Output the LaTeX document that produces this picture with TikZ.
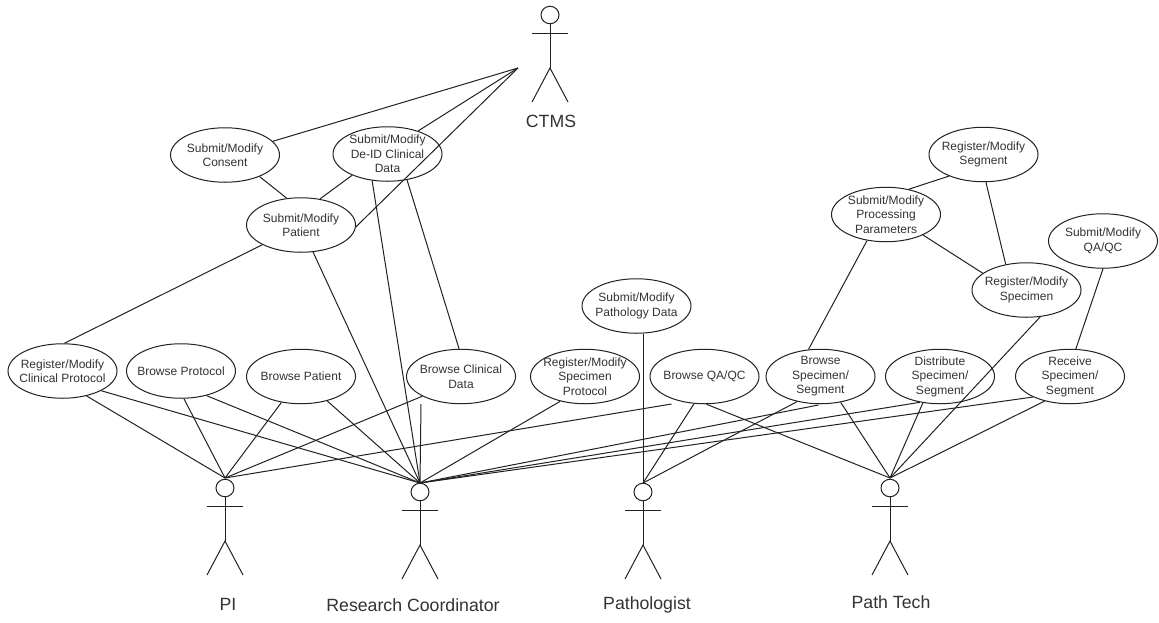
\documentclass[tikz,border=0pt]{standalone}
\usepackage{fontspec}
\setmainfont{Liberation Sans}
\usetikzlibrary{shapes.geometric}
\definecolor{ink}{HTML}{222222}
\definecolor{txt}{HTML}{333333}
\tikzset{
  usecase/.style={ellipse,draw=ink,line width=1pt,minimum width=109pt,minimum height=54.5pt,inner sep=0pt,
    label={[uctext]center:{#1}}},
  uctext/.style={align=center,text=txt,inner sep=0pt,font=\fontsize{12}{14.5}\selectfont},
  actorhead/.style={ellipse,draw=ink,line width=1pt,minimum width=18pt,minimum height=17.5pt,inner sep=0pt},
  actorlabel/.style={text=txt,font=\fontsize{17.7}{20}\selectfont,inner sep=0pt},
  link/.style={draw=ink,line width=1pt},
  limb/.style={draw=ink,line width=1pt}
}
\newcommand{\stick}[3]{% name, x, head-centre y
  \node[actorhead] (#1head) at (#2,#3) {};
  \draw[limb] (#1head.south) -- (#2,#3+53);
  \draw[limb] (#2-18,#3+18) -- (#2+18,#3+18);
  \draw[limb] (#2-18,#3+87) -- (#2,#3+53) -- (#2+18,#3+87);
}
\begin{document}
\begin{tikzpicture}[x=1pt,y=-1pt]
\useasboundingbox (0,0) rectangle (1159,622);
\fill[white] (0,0) rectangle (1159,622);
% actors
\stick{ctms}{550}{15}
\stick{pi}{225}{488}
\stick{rc}{420}{492}
\stick{pa}{643}{492}
\stick{pt}{890}{488}
\node[actorlabel] (lctms) at (551,121) {CTMS};
\node[actorlabel] (lpi) at (228,604) {PI};
\node[actorlabel] (lrc) at (413,605) {Research Coordinator};
\node[actorlabel] (lpa) at (647,605) {Pathologist};
\node[actorlabel] (lpt) at (891,602) {Path Tech};
% hub points
\coordinate (hctms) at (518,68);
\coordinate (hpi) at (225,478);
\coordinate (hrc) at (420,483);
\coordinate (hpa) at (643,483);
\coordinate (hpt) at (890,478);
\coordinate (freeqa) at (671.5,404);
\coordinate (freebc) at (421,404);
\coordinate (freebs) at (818.5,405);
% use cases
\node[usecase={Submit/Modify\\Consent}] (consent) at (225,155) {};
\node[usecase={Submit/Modify\\De-ID Clinical\\Data}] (deid) at (387.5,154) {};
\node[usecase={Submit/Modify\\Patient}] (patient) at (301,225) {};
\node[usecase={Register/Modify\\Segment}] (segment) at (983.5,154.5) {};
\node[usecase={Submit/Modify\\Processing\\Parameters}] (proc) at (886,214.5) {};
\node[usecase={Submit/Modify\\QA/QC}] (subqa) at (1103,241) {};
\node[usecase={Register/Modify\\Specimen}] (regspec) at (1026.5,290) {};
\node[usecase={Submit/Modify\\Pathology Data}] (pathdata) at (636.5,306) {};
\node[usecase={Register/Modify\\Clinical Protocol}] (regclin) at (62.5,371) {};
\node[usecase={Browse Protocol}] (bprot) at (181,371) {};
\node[usecase={Browse Patient}] (bpat) at (301,376.5) {};
\node[usecase={Browse Clinical\\Data}] (bclin) at (461,376.5) {};
\node[usecase={Register/Modify\\Specimen\\Protocol}] (regsp) at (585,376.5) {};
\node[usecase={Browse QA/QC}] (bqa) at (704.5,376.5) {};
\node[usecase={Browse\\Specimen/\\Segment}] (bspec) at (820.5,376.5) {};
\node[usecase={Distribute\\Specimen/\\Segment}] (dist) at (940,376.5) {};
\node[usecase={Receive\\Specimen/\\Segment}] (recv) at (1070,376.5) {};
% CTMS
\draw[link] (consent.16) -- (hctms);
\draw[link] (deid.37) -- (hctms);
\draw[link] (patient.-2) -- (hctms);
% upper left
\draw[link] (consent.-32) -- (patient.118);
\draw[link] (deid.211) -- (patient.54);
\draw[link] (deid.-53) -- (bclin.94);
\draw[link] (patient.207) -- (regclin.86);
% PI
\draw[link] (regclin.-46) -- (hpi);
\draw[link] (bprot.-84) -- (hpi);
\draw[link] (bpat.233) -- (hpi);
\draw[link] (bclin.207) -- (hpi);
\draw[link] (freeqa) -- (hpi);
% Research Coordinator
\draw[link] (regclin.-27) -- (hrc);
\draw[link] (bprot.-44) -- (hrc);
\draw[link] (bpat.-43) -- (hrc);
\draw[link] (patient.-66) -- (hrc);
\draw[link] (deid.240) -- (hrc);
\draw[link] (freebc) -- (hrc);
\draw[link] (regsp.225) -- (hrc);
\draw[link] (freebs) -- (hrc);
\draw[link] (dist.232) -- (hrc);
\draw[link] (recv.209.5) -- (hrc);
% Pathologist
\draw[link] (pathdata.south -| hpa) -- (hpa);
\draw[link] (bqa.249) -- (hpa);
\draw[link] (bspec.227) -- (hpa);
% Path Tech
\draw[link] (bqa.-86) -- (hpt);
\draw[link] (bspec.-52) -- (hpt);
\draw[link] (dist.237) -- (hpt);
\draw[link] (regspec.-63) -- (hpt);
\draw[link] (recv.224) -- (hpt);
% upper right
\draw[link] (recv.78) -- (subqa.-90);
\draw[link] (bspec.114) -- (proc.234);
\draw[link] (proc.48) -- (segment.212);
\draw[link] (segment.-85) -- (regspec.129);
\draw[link] (proc.-29) -- (regspec.159);
\end{tikzpicture}
\end{document}
